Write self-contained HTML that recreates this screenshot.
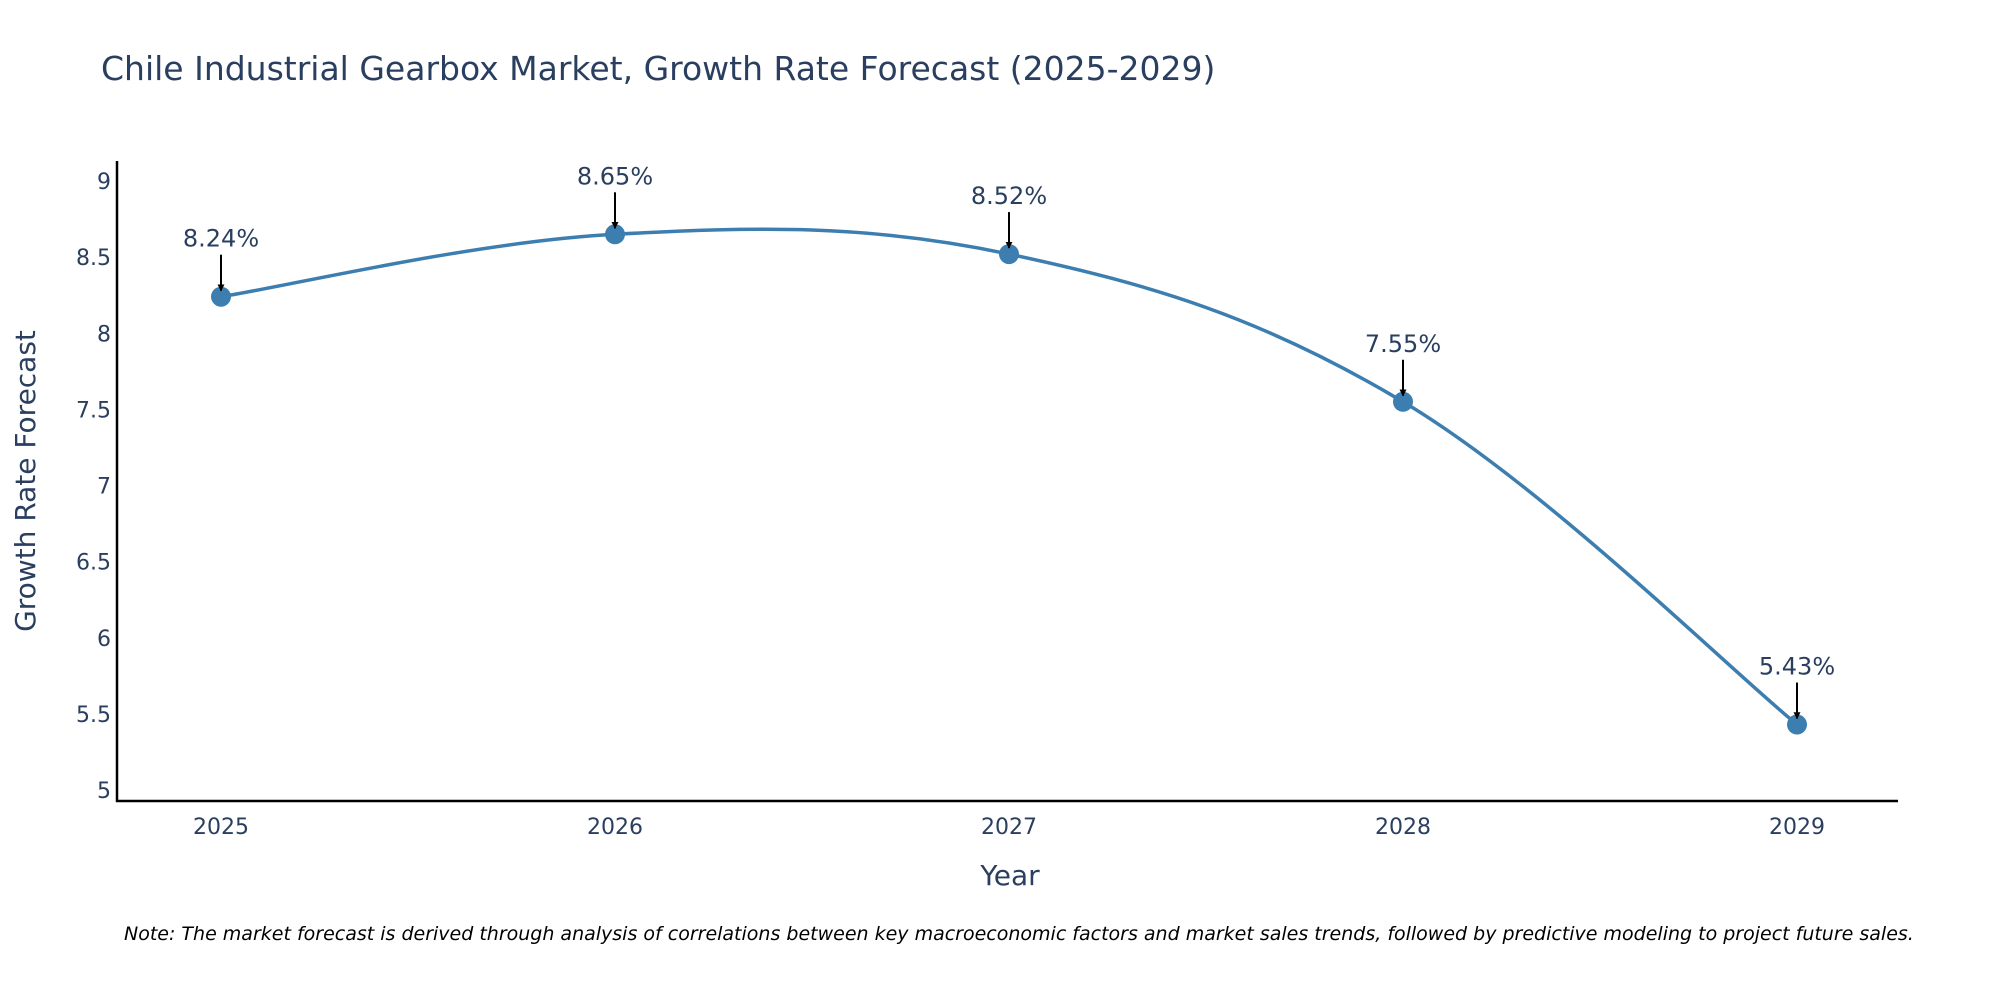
<!DOCTYPE html>
<html><head><meta charset="utf-8"><style>
body{margin:0;background:#fff;}
svg{display:block;font-family:"DejaVu Sans","Liberation Sans",sans-serif;}
</style></head><body>
<svg id="chart" width="2000" height="1000" viewBox="0 0 2000 1000">
<defs><marker id="ah" viewBox="0 0 10 10" refX="9" refY="5" markerWidth="7" markerHeight="7" markerUnits="userSpaceOnUse" orient="auto"><path d="M0,0 L10,5 L0,10 z" fill="#000"/></marker></defs>
<text x="101" y="80" font-size="33" fill="#2a3f5f">Chile Industrial Gearbox Market, Growth Rate Forecast (2025-2029)</text>
<g id="yticks"></g>
<g id="xticks"></g>
<line x1="117" y1="161" x2="117" y2="802" stroke="#000" stroke-width="2.5"/>
<line x1="116" y1="801" x2="1898" y2="801" stroke="#000" stroke-width="2.5"/>
<text transform="translate(35,481) rotate(-90)" text-anchor="middle" font-size="28" fill="#2a3f5f">Growth Rate Forecast</text>
<text x="1010" y="885" text-anchor="middle" font-size="28" fill="#2a3f5f">Year</text>
<g id="series"></g>
<text x="124" y="940" font-size="19" font-style="italic" fill="#000">Note: The market forecast is derived through analysis of correlations between key macroeconomic factors and market sales trends, followed by predictive modeling to project future sales.</text>
</svg>
<script>
const years = [2025, 2026, 2027, 2028, 2029];
const values = [8.24, 8.65, 8.52, 7.55, 5.43];
const labels = ["8.24%", "8.65%", "8.52%", "7.55%", "5.43%"];
const yTicks = [5, 5.5, 6, 6.5, 7, 7.5, 8, 8.5, 9];
const NS = "http://www.w3.org/2000/svg";
const xs = v => 221 + (v - 2025) * (1797 - 221) / 4;
const ys = v => 790 - (v - 5) * (790 - 181) / 4;
function mk(t, a, p) { const e = document.createElementNS(NS, t); for (const k in a) e.setAttribute(k, a[k]); p.appendChild(e); return e; }
const yg = document.getElementById('yticks');
yTicks.forEach(t => {
  const e = mk('text', {x: 111, y: ys(t) + 8, 'text-anchor': 'end', 'font-size': 22, fill: '#2a3f5f'}, yg);
  
  
  e.textContent = t;
});
const xg = document.getElementById('xticks');
years.forEach(y => {
  const e = mk('text', {x: xs(y), y: 834, 'text-anchor': 'middle', 'font-size': 22, fill: '#2a3f5f'}, xg);
  
  
  e.textContent = y;
});
const sg = document.getElementById('series');
const pts = years.map((y, i) => [xs(y), ys(values[i])]);
let d = `M${pts[0][0]},${pts[0][1]}`;
const k = 0.18;
for (let i = 0; i < pts.length - 1; i++) {
  const p0 = pts[Math.max(0, i - 1)], p1 = pts[i], p2 = pts[i + 1], p3 = pts[Math.min(pts.length - 1, i + 2)];
  const c1 = [p1[0] + (p2[0] - p0[0]) * k, p1[1] + (p2[1] - p0[1]) * k];
  const c2 = [p2[0] - (p3[0] - p1[0]) * k, p2[1] - (p3[1] - p1[1]) * k];
  d += ` C${c1[0]},${c1[1]} ${c2[0]},${c2[1]} ${p2[0]},${p2[1]}`;
}
const line = mk('path', {d: d, fill: 'none', stroke: '#3d7eb0', 'stroke-width': 3.5}, sg);


pts.forEach((p, i) => {
  const c = mk('circle', {cx: p[0], cy: p[1], r: 10, fill: '#3d7eb0'}, sg);
  
  
  const a = mk('line', {x1: p[0], y1: p[1] - 42, x2: p[0], y2: p[1] - 6, stroke: '#000', 'stroke-width': 2, 'marker-end': 'url(#ah)'}, sg);
  
  
  const t = mk('text', {x: p[0], y: p[1] - 50, 'text-anchor': 'middle', 'font-size': 24, fill: '#2a3f5f'}, sg);
  
  
  t.textContent = labels[i];
});
</script>
</body></html>
